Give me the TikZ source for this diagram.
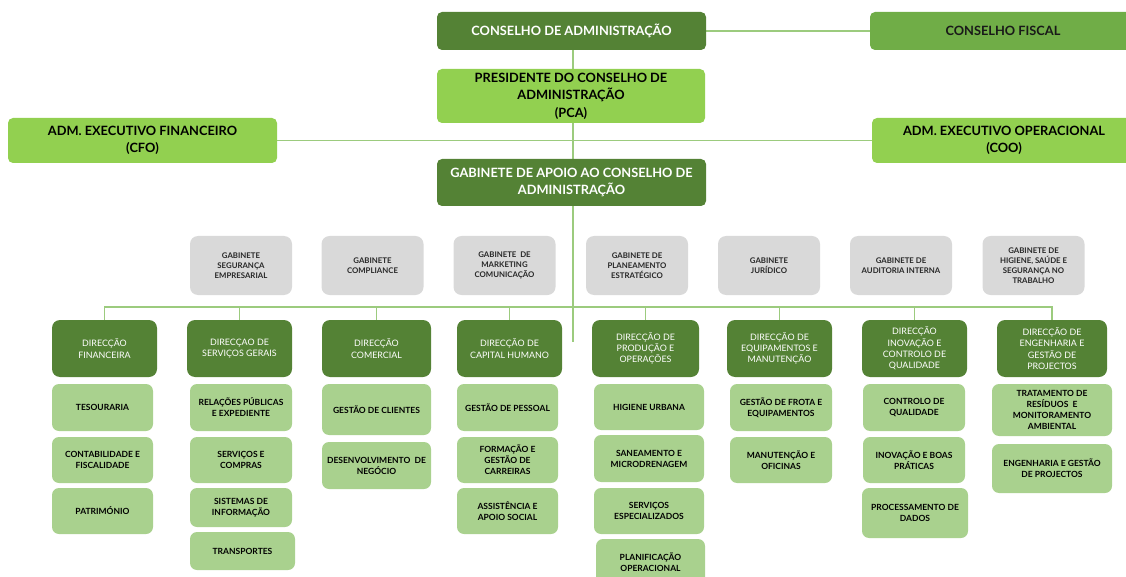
\documentclass[tikz,border=0pt]{standalone}
\usepackage{fontspec}
\setmainfont{Lato}
\usetikzlibrary{backgrounds}
\definecolor{verdeesc}{HTML}{548235}
\definecolor{verdemed}{HTML}{70AD47}
\definecolor{verdecla}{HTML}{92D050}
\definecolor{verdesub}{HTML}{A9D18E}
\definecolor{cinza}{HTML}{D9D9D9}
\definecolor{linha}{HTML}{9CCB7E}

\begin{document}
\begin{tikzpicture}[x=1pt,y=-1pt,
    box/.style n args={2}{minimum width=#1pt, minimum height=#2pt},
    orgao/.style={rounded corners=5pt, inner sep=0pt, align=center,
      font=\fontsize{12.8}{17.5}\selectfont\bfseries},
    gabbox/.style={fill=cinza, rounded corners=8pt, inner sep=0pt, align=center,
      text=black!85, box={102}{59}, font=\fontsize{7.8}{10.2}\selectfont\bfseries},
    dirbox/.style={fill=verdeesc, text=white, rounded corners=8pt, inner sep=0pt,
      align=center, font=\fontsize{8.9}{11.3}\selectfont},
    subbox/.style={fill=verdesub, text=black, rounded corners=7pt, inner sep=0pt,
      align=center, font=\fontsize{8.5}{11}\selectfont\bfseries},
    link/.style={draw=linha, line width=1.5pt}]
  \useasboundingbox (0,0) rectangle (1126,577);

  % topo
  \node[orgao, fill=verdeesc, text=white, box={269}{38}] (ca) at (571.5,31) {CONSELHO DE ADMINISTRAÇÃO};
  \node[orgao, fill=verdemed, text=black!90, box={266}{38}] (cf) at (1003,31) {CONSELHO FISCAL};
  \node[orgao, fill=verdecla, box={268}{54}] (pca) at (571,96) {PRESIDENTE DO CONSELHO DE\\ADMINISTRAÇÃO\\(PCA)};
  \node[orgao, fill=verdecla, box={269}{45}] (cfo) at (142.5,140.5) {ADM. EXECUTIVO FINANCEIRO\\(CFO)};
  \node[orgao, fill=verdecla, box={264}{45}] (coo) at (1004,140.5) {ADM. EXECUTIVO OPERACIONAL\\(COO)};
  \node[orgao, fill=verdeesc, text=white, box={269}{47}] (gab) at (571.5,182.5) {GABINETE DE APOIO AO CONSELHO DE\\ADMINISTRAÇÃO};

  % gabinetes
  \node[gabbox] (g1) at (241,265.5) {GABINETE\\SEGURANÇA\\EMPRESARIAL};
  \node[gabbox] (g2) at (372.5,265.5) {GABINETE\\COMPLIANCE};
  \node[gabbox] (g3) at (504.5,265.5) {GABINETE \ DE\\MARKETING\\COMUNICAÇÃO};
  \node[gabbox] (g4) at (637,265.5) {GABINETE DE\\PLANEAMENTO\\ESTRATÉGICO};
  \node[gabbox] (g5) at (769,265.5) {GABINETE\\JURÍDICO};
  \node[gabbox] (g6) at (901,265.5) {GABINETE DE\\AUDITORIA INTERNA};
  \node[gabbox] (g7) at (1033.5,265.5) {GABINETE DE\\HIGIENE, SAÚDE E\\SEGURANÇA NO\\TRABALHO};

  % direccoes
  \node[dirbox, box={105}{57}] (d1) at (104.5,348.5) {DIRECÇÃO\\FINANCEIRA};
  \node[dirbox, box={105}{57}] (d2) at (239.5,348.5) {DIRECÇAO DE\\SERVIÇOS GERAIS};
  \node[dirbox, box={109}{57}] (d3) at (376.5,348.5) {DIRECÇÃO\\COMERCIAL};
  \node[dirbox, box={105}{57}] (d4) at (509.5,348.5) {DIRECÇÃO DE\\CAPITAL HUMANO};
  \node[dirbox, box={107}{57}] (d5) at (645.5,348.5) {DIRECÇÃO DE\\PRODUÇÃO E\\OPERAÇÕES};
  \node[dirbox, box={105}{57}] (d6) at (779.5,348.5) {DIRECÇÃO DE\\EQUIPAMENTOS E\\MANUTENÇÃO};
  \node[dirbox, box={105}{57}] (d7) at (914.5,348.5) {DIRECÇÃO\\INOVAÇÃO E\\CONTROLO DE\\QUALIDADE};
  \node[dirbox, box={110}{57}] (d8) at (1052,348.5) {DIRECÇÃO DE\\ENGENHARIA E\\GESTÃO DE\\PROJECTOS};

  % departamentos
  \node[subbox, box={101}{47}] (s11) at (102.5,407.5) {TESOURARIA};
  \node[subbox, box={101}{46}] (s12) at (102.5,460) {CONTABILIDADE E\\FISCALIDADE};
  \node[subbox, box={101}{46}] (s13) at (102.5,511) {PATRIMÓNIO};

  \node[subbox, box={102}{47}] (s21) at (241,407.5) {RELAÇÕES PÚBLICAS\\E EXPEDIENTE};
  \node[subbox, box={102}{46}] (s22) at (241,460) {SERVIÇOS E\\COMPRAS};
  \node[subbox, box={102}{39}] (s23) at (241,507.5) {SISTEMAS DE\\INFORMAÇÃO};
  \node[subbox, box={105}{38}] (s24) at (242.5,551) {TRANSPORTES};

  \node[subbox, box={109}{51}] (s31) at (376.5,409.5) {GESTÃO DE CLIENTES};
  \node[subbox, box={109}{47}] (s32) at (376.5,465.5) {DESENVOLVIMENTO \ DE\\NEGÓCIO};

  \node[subbox, box={101}{47}] (s41) at (507.5,407.5) {GESTÃO DE PESSOAL};
  \node[subbox, box={101}{46}] (s42) at (507.5,460) {FORMAÇÃO E\\GESTÃO DE\\CARREIRAS};
  \node[subbox, box={101}{46}] (s43) at (507.5,511) {ASSISTÊNCIA E\\APOIO SOCIAL};

  \node[subbox, box={110}{46}] (s51) at (649,407) {HIGIENE URBANA};
  \node[subbox, box={110}{47}] (s52) at (649,458.5) {SANEAMENTO E\\MICRODRENAGEM};
  \node[subbox, box={110}{46}] (s53) at (649,511) {SERVIÇOS\\ESPECIALIZADOS};
  \node[subbox, box={109}{46}] (s54) at (650.5,562) {PLANIFICAÇÃO\\OPERACIONAL};

  \node[subbox, box={102}{47}] (s61) at (781,407.5) {GESTÃO DE FROTA E\\EQUIPAMENTOS};
  \node[subbox, box={102}{46}] (s62) at (781,460) {MANUTENÇÃO E\\OFICINAS};

  \node[subbox, box={102}{47}] (s71) at (914,407.5) {CONTROLO DE\\QUALIDADE};
  \node[subbox, box={102}{46}] (s72) at (914,460) {INOVAÇÃO E BOAS\\PRÁTICAS};
  \node[subbox, box={106}{50}] (s73) at (915,513) {PROCESSAMENTO DE\\DADOS};

  \node[subbox, box={120}{52}] (s81) at (1052,410) {TRATAMENTO DE\\RESÍDUOS \ E\\MONITORAMENTO\\AMBIENTAL};
  \node[subbox, box={120}{49}] (s82) at (1052,468.5) {ENGENHARIA E GESTÃO\\DE PROJECTOS};

  \coordinate (fim) at (573,342);
  \coordinate (ramo) at (573,307);

  \begin{scope}[on background layer]
    \draw[link] (ca.east) -- (cf.west);
    \draw[link] (cfo.east) -- (coo.west);
    \draw[link] (ca.south -| fim) -- (fim);
    \draw[link] (d1.north) |- (ramo) -| (d8.north);
    \draw[link] (d2.north) -- (d2.north |- ramo);
    \draw[link] (d3.north) -- (d3.north |- ramo);
    \draw[link] (d4.north) -- (d4.north |- ramo);
    \draw[link] (d5.north) -- (d5.north |- ramo);
    \draw[link] (d6.north) -- (d6.north |- ramo);
    \draw[link] (d7.north) -- (d7.north |- ramo);
  \end{scope}
\end{tikzpicture}
\end{document}
